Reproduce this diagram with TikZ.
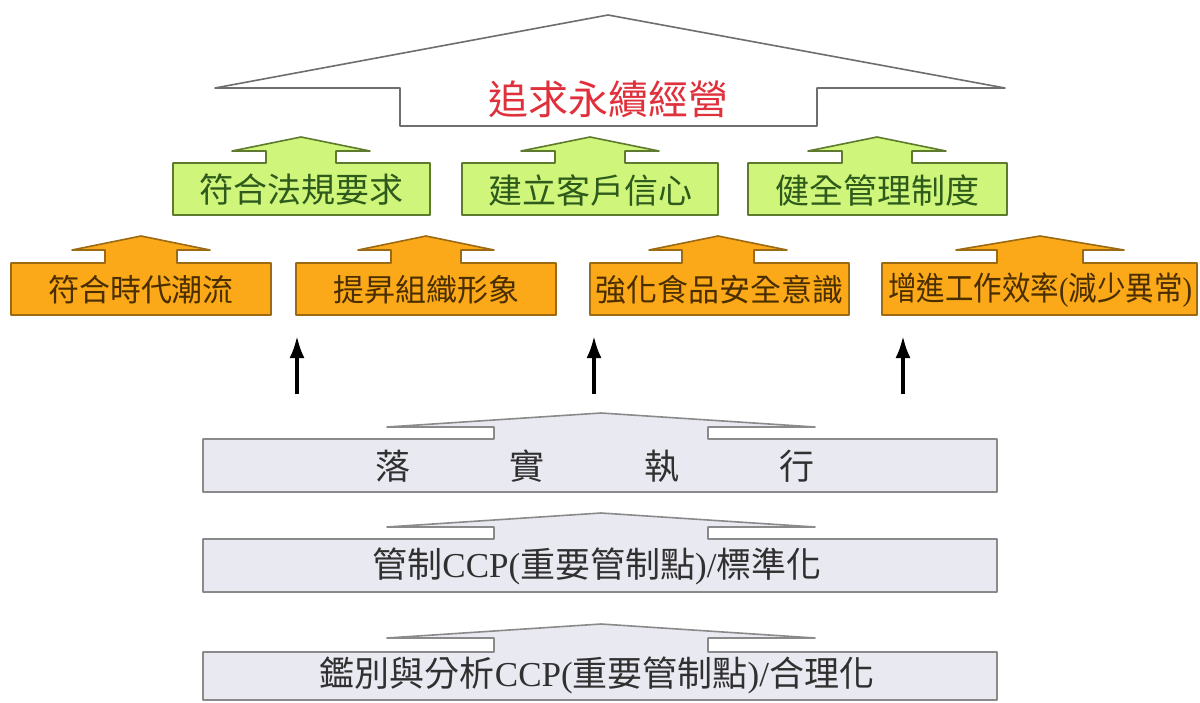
\documentclass[tikz,border=0pt]{standalone}
\usepackage{fontspec}
\setmainfont{Noto Sans CJK TC}
\newfontfamily\latserif{Liberation Serif}
\usetikzlibrary{arrows.meta}
\definecolor{gfill}{HTML}{CFF57A}
\definecolor{gline}{HTML}{5E7A2E}
\definecolor{gtxt}{HTML}{2E5A1C}
\definecolor{ofill}{HTML}{FBA919}
\definecolor{oline}{HTML}{9C6A12}
\definecolor{otxt}{HTML}{4A2E00}
\definecolor{bfill}{HTML}{E9E9F2}
\definecolor{bline}{HTML}{8A8A8A}
\definecolor{btxt}{HTML}{303030}
\definecolor{titlered}{HTML}{E0303C}
\definecolor{roofline}{HTML}{6E6E6E}
% #1 style, #2 x1, #3 x2, #4 ytop, #5 ybot, #6 cx, #7 shaft half, #8 head half, #9 head base
\newcommand\upbox[9]{\draw[#1] ({#6-#7},#4) -- (#2,#4) -- (#2,#5) -- (#3,#5) -- (#3,#4) -- ({#6+#7},#4) -- ({#6+#7},#9) -- ({#6+#8},#9) -- (#6,{#9-14}) -- ({#6-#8},#9) -- ({#6-#7},#9) -- cycle;}
\begin{document}
\begin{tikzpicture}[x=1pt,y=-1pt,
  gshape/.style={fill=gfill,draw=gline,line width=1.6pt,line join=round},
  oshape/.style={fill=ofill,draw=oline,line width=1.6pt,line join=round},
  bshape/.style={fill=bfill,draw=bline,line width=1.6pt,line join=round},
  roofshape/.style={fill=white,draw=roofline,line width=1.6pt,line join=round},
  titletext/.style={text=titlered,font=\fontsize{40}{44}\selectfont,inner sep=0pt},
  gtext/.style={text=gtxt,font=\fontsize{34}{38}\selectfont,inner sep=0pt},
  otext/.style={text=otxt,font=\fontsize{31}{35}\selectfont,inner sep=0pt},
  btext/.style={text=btxt,font=\fontsize{35}{39}\selectfont,inner sep=0pt},
  uparrow/.style={line width=3.5pt,-{Latex[length=22pt,width=15pt]}}
]
\useasboundingbox (0,0) rectangle (1200,702);
\fill[white] (0,0) rectangle (1200,702);

% roof
\draw[roofshape] (400,126) -- (400,88) -- (215,88) -- (608,15) -- (1005,88) -- (817,88) -- (817,126) -- cycle;
\node[titletext] (goal) at (608,99) {追求永續經營};

% green row
\upbox{gshape}{173}{430}{163}{215}{301}{35}{69}{151}
\upbox{gshape}{462}{718}{163}{215}{590}{35}{69}{151}
\upbox{gshape}{748}{1007}{163}{215}{877}{35}{69}{151}
\node[gtext] (g1) at (301,190) {符合法規要求};
\node[gtext] (g2) at (590,190) {建立客戶信心};
\node[gtext] (g3) at (877,190) {健全管理制度};

% orange row
\upbox{oshape}{11}{271}{263}{315}{141}{36}{69}{250}
\upbox{oshape}{296}{556}{263}{315}{426}{35}{68}{250}
\upbox{oshape}{590}{849}{263}{315}{718}{36}{69}{250}
\upbox{oshape}{882}{1197}{263}{315}{1040}{43}{84}{250}
\node[otext] (o1) at (141,290) {符合時代潮流};
\node[otext] (o2) at (426,290) {提昇組織形象};
\node[otext] (o3) at (719,290) {強化食品安全意識};
\node[otext] (o4) at (1040,290) {\scalebox{1}[1.15]{\resizebox{304pt}{!}{增進工作效率{\latserif(}減少異常{\latserif)}}}};

% black arrows
\coordinate (a1s) at (297,394); \coordinate (a1e) at (297,336);
\coordinate (a2s) at (594,394); \coordinate (a2e) at (594,336);
\coordinate (a3s) at (903,394); \coordinate (a3e) at (903,336);
\draw[uparrow] (a1s) -- (a1e);
\draw[uparrow] (a2s) -- (a2e);
\draw[uparrow] (a3s) -- (a3e);

% grey rows
\upbox{bshape}{203}{997}{439}{492}{601}{107}{214}{427}
\upbox{bshape}{203}{997}{539}{592}{601}{107}{214}{527}
\upbox{bshape}{203}{997}{652}{700}{601}{107}{214}{638}
\node[btext] (b1) at (595,466) {落\hspace{100pt}實\hspace{100pt}執\hspace{100pt}行};
\node[btext] (b2) at (597,566) {管制{\latserif CCP(}重要管制點{\latserif)/}標準化};
\node[btext] (b3) at (597,675) {鑑別與分析{\latserif CCP(}重要管制點{\latserif)/}合理化};
\end{tikzpicture}
\end{document}
